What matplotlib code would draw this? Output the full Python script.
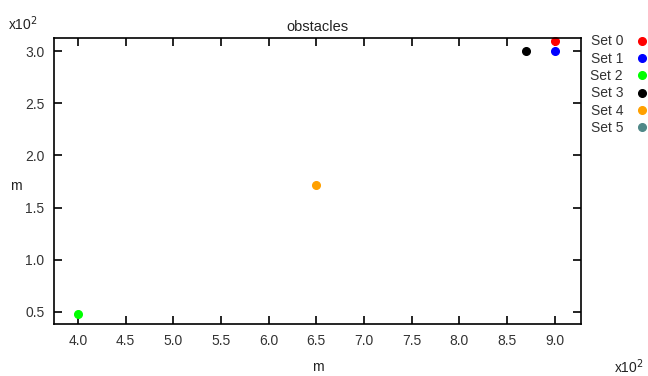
import matplotlib
matplotlib.use("Agg")
import matplotlib.pyplot as plt
from matplotlib.ticker import FuncFormatter, MultipleLocator

plt.rcParams['font.family'] = ['Liberation Sans', 'DejaVu Sans']

# datos de cada serie (en metros)
names = ['Set 0', 'Set 1', 'Set 2', 'Set 3', 'Set 4', 'Set 5']
colors = ['#ff0000', '#0000ff', '#00ff00', '#000000', '#ffa000', '#508888']
xs = [[900], [900], [400], [870], [650], []]
ys = [[310], [300], [48], [300], [172], []]

fig = plt.figure(figsize=(6.48, 3.76), dpi=100)
ax = fig.add_axes([0.0833, 0.1383, 0.8127, 0.7607])

for name, c, x, y in zip(names, colors, xs, ys):
    ax.plot(x, y, 'o', color=c, markersize=5.5, label=name, clip_on=False)

ax.set_xlim(375, 927)
ax.set_ylim(38.5, 312.5)
ax.xaxis.set_major_locator(MultipleLocator(50))
ax.yaxis.set_major_locator(MultipleLocator(50))
fmt = FuncFormatter(lambda v, p: '%.1f' % (v / 100))
ax.xaxis.set_major_formatter(fmt)
ax.yaxis.set_major_formatter(fmt)
ax.tick_params(direction='in', length=6, width=1.2, top=True, right=True,
               labelsize=10, labelcolor='#333333', pad=7)
for s in ax.spines.values():
    s.set_linewidth(1.2)

ax.set_title('obstacles', fontsize=10.5, color='#222222', pad=5)
fig.text(0.491, 0.012, 'm', fontsize=10, color='#222222', ha='center')
fig.text(0.015, 0.505, 'm', fontsize=10, color='#222222', va='center')
fig.text(0.012, 0.92, r'x10$^2$', fontsize=10, color='#222222')
fig.text(0.948, 0.008, r'x10$^2$', fontsize=10, color='#222222')

leg = ax.legend(loc='upper left', bbox_to_anchor=(1.008, 1.032), frameon=False,
                markerfirst=False, handlelength=0.8, handletextpad=1.0,
                labelspacing=0.24, fontsize=10, borderaxespad=0)
for t in leg.get_texts():
    t.set_color('#333333')

plt.savefig('out.png')
